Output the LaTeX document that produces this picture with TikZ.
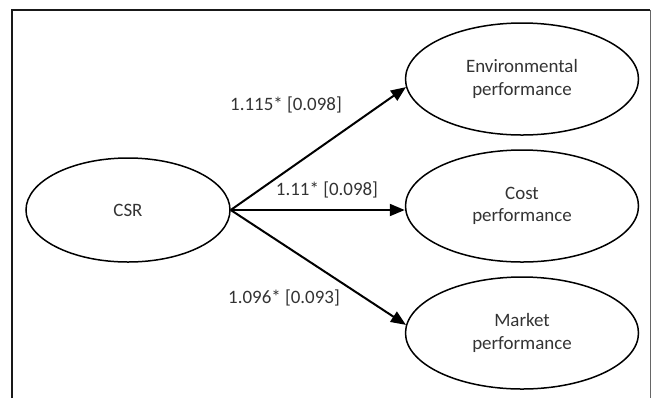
\documentclass[tikz,border=0pt]{standalone}
\usepackage{fontspec}
\setmainfont{Carlito}
\usetikzlibrary{shapes.geometric,arrows.meta}
\tikzset{
  latent/.style={ellipse,draw,line width=1.5bp,inner sep=0pt,
    minimum width=233bp,minimum height=112bp,align=center,text=black!80},
  path/.style={line width=2bp,-{Triangle[length=15bp,width=12bp]}},
  coef/.style={text=black!80}
}
\begin{document}
\begin{tikzpicture}[x=1bp,y=-1bp,font=\fontsize{19}{22.5}\selectfont]
      \useasboundingbox (0,0) rectangle (657,398);
      % frame
      \draw[line width=1.5bp,black!90] (12,398) -- (12,10) -- (650,10);
      \draw[line width=1bp,black!60] (650,10) -- (650,398);
      \draw
        (128,210) node[latent,minimum width=204bp,minimum height=104bp] (csr){CSR}
        (522,79) node[latent] (env){Environmental\\performance}
        (522,206) node[latent] (cost){Cost\\performance}
        (522,333) node[latent] (mkt){Market\\performance};
      \begin{scope}[path]
        \draw (csr.east) to (env.184);
        \draw (csr.east) to (csr.east -| cost.west);
        \draw (csr.east) to (mkt.176);
      \end{scope}
      \node[coef] (c1) at (286,105) {1.115* [0.098]};
      \node[coef] (c2) at (327,190) {1.11* [0.098]};
      \node[coef] (c3) at (284,298) {1.096* [0.093]};
    \end{tikzpicture}
\end{document}
